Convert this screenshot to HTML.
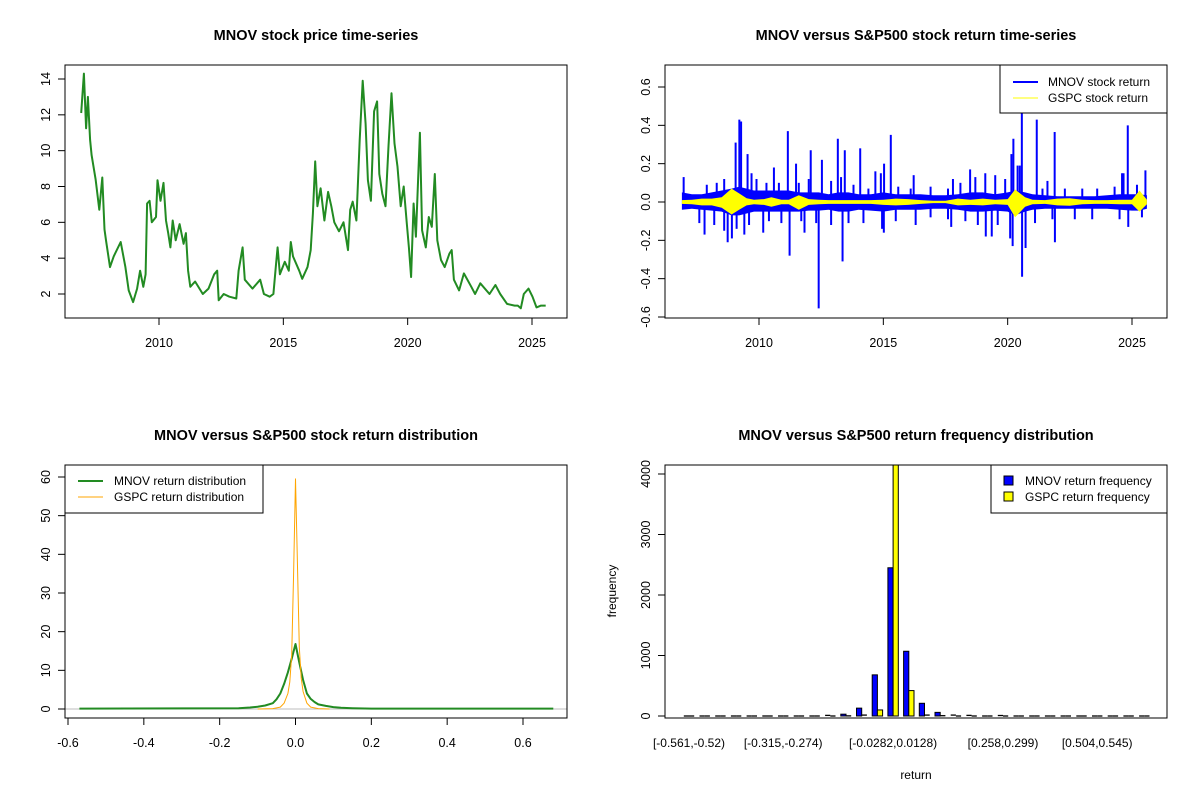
<!DOCTYPE html>
<html><head><meta charset="utf-8"><style>
html,body{margin:0;padding:0;background:#fff;}
svg{display:block;font-family:"Liberation Sans",Arial,sans-serif;}
</style></head><body>
<svg id="chart" width="1200" height="800" viewBox="0 0 1200 800"></svg>
<script>
// ---------- Data: price ----------
const priceYears=[2006.87,2006.98,2007.07,2007.14,2007.23,2007.29,2007.45,2007.60,2007.72,2007.81,2007.87,2008.03,2008.18,2008.46,2008.65,2008.78,2008.96,2009.12,2009.24,2009.37,2009.46,2009.52,2009.62,2009.71,2009.88,2009.94,2010.06,2010.18,2010.28,2010.37,2010.46,2010.55,2010.67,2010.83,2010.99,2011.08,2011.17,2011.26,2011.45,2011.76,2011.99,2012.22,2012.34,2012.40,2012.60,2012.83,2013.11,2013.20,2013.36,2013.45,2013.76,2014.07,2014.22,2014.45,2014.60,2014.71,2014.77,2014.86,2015.06,2015.22,2015.30,2015.39,2015.64,2015.76,2015.97,2016.10,2016.19,2016.28,2016.37,2016.50,2016.65,2016.80,2016.93,2017.05,2017.24,2017.42,2017.60,2017.69,2017.79,2017.94,2018.07,2018.19,2018.31,2018.40,2018.52,2018.65,2018.77,2018.86,2018.98,2019.11,2019.23,2019.35,2019.47,2019.59,2019.72,2019.84,2019.96,2020.05,2020.14,2020.24,2020.33,2020.49,2020.58,2020.73,2020.85,2020.97,2021.09,2021.19,2021.34,2021.49,2021.68,2021.77,2021.86,2022.07,2022.26,2022.56,2022.71,2022.92,2023.29,2023.53,2023.72,2024.00,2024.30,2024.43,2024.55,2024.67,2024.86,2025.02,2025.18,2025.36,2025.55];
const priceValues=[12.1,14.3,11.25,13.0,10.6,9.75,8.4,6.7,8.5,5.6,5.0,3.5,4.1,4.9,3.5,2.2,1.55,2.3,3.3,2.4,3.1,7.05,7.2,6.0,6.3,8.35,7.2,8.2,6.1,5.4,4.6,6.1,5.0,5.9,4.8,5.4,3.3,2.4,2.7,2.0,2.3,3.1,3.3,1.65,2.0,1.85,1.75,3.3,4.6,2.8,2.3,2.8,2.0,1.85,2.0,3.7,4.6,3.1,3.8,3.3,4.9,4.1,3.3,2.85,3.5,4.45,6.5,9.4,6.9,7.9,6.1,7.7,6.9,6.0,5.5,6.0,4.45,6.7,7.15,6.1,10.6,13.9,11.5,8.35,7.2,12.2,12.75,8.7,7.6,6.9,10.25,13.2,10.4,9.1,6.9,8.0,6.0,4.6,2.95,7.05,5.2,11.0,5.55,4.6,6.3,5.75,8.7,5.0,3.9,3.5,4.25,4.45,2.8,2.2,3.15,2.4,2.0,2.6,2.0,2.5,2.0,1.45,1.35,1.35,1.2,2.0,2.3,1.85,1.25,1.35,1.35];
const priceYTicks=[2,4,6,8,10,12,14];
const yearTicks=[2010,2015,2020,2025];
// ---------- Data: returns ----------
const bandYears=[2006.9,2007.3,2007.7,2008.1,2008.5,2008.9,2009.2,2009.5,2009.8,2010.2,2010.5,2010.9,2011.2,2011.6,2012.0,2012.4,2012.8,2013.2,2013.6,2014.0,2014.5,2015.0,2015.5,2016.0,2016.5,2017.0,2017.5,2018.0,2018.5,2019.0,2019.5,2020.0,2020.3,2020.7,2021.0,2021.5,2022.0,2022.5,2023.0,2023.5,2024.0,2024.5,2025.0,2025.3,2025.6];
const mnovHi=[0.05,0.04,0.04,0.05,0.06,0.07,0.08,0.07,0.06,0.06,0.06,0.06,0.06,0.05,0.05,0.05,0.04,0.05,0.05,0.04,0.04,0.05,0.04,0.04,0.04,0.035,0.035,0.04,0.05,0.05,0.04,0.05,0.06,0.05,0.04,0.035,0.03,0.03,0.03,0.03,0.035,0.04,0.04,0.04,0.035];
const mnovLo=[-0.04,-0.035,-0.04,-0.045,-0.05,-0.07,-0.07,-0.06,-0.05,-0.05,-0.05,-0.05,-0.05,-0.05,-0.045,-0.045,-0.04,-0.05,-0.05,-0.04,-0.045,-0.05,-0.04,-0.04,-0.04,-0.035,-0.035,-0.04,-0.05,-0.05,-0.045,-0.05,-0.07,-0.05,-0.04,-0.035,-0.035,-0.035,-0.035,-0.035,-0.035,-0.04,-0.045,-0.045,-0.035];
const gspcHi=[0.01,0.012,0.018,0.018,0.025,0.07,0.045,0.02,0.012,0.015,0.025,0.012,0.012,0.035,0.015,0.012,0.01,0.01,0.01,0.01,0.01,0.012,0.018,0.015,0.01,0.006,0.006,0.018,0.012,0.018,0.012,0.015,0.065,0.025,0.012,0.01,0.018,0.02,0.012,0.01,0.01,0.012,0.012,0.06,0.012];
const gspcLo=[-0.01,-0.012,-0.018,-0.018,-0.03,-0.065,-0.04,-0.018,-0.012,-0.015,-0.025,-0.012,-0.012,-0.04,-0.015,-0.012,-0.01,-0.01,-0.01,-0.01,-0.01,-0.015,-0.018,-0.015,-0.01,-0.006,-0.006,-0.018,-0.015,-0.018,-0.012,-0.015,-0.08,-0.025,-0.012,-0.01,-0.018,-0.02,-0.012,-0.01,-0.01,-0.012,-0.012,-0.05,-0.012];
const spikeYears=[2006.97,2007.81,2008.74,2008.91,2009.06,2009.21,2009.28,2009.41,2009.54,2010.17,2010.60,2011.16,2011.23,2011.49,2011.83,2012.08,2012.40,2012.53,2013.17,2013.36,2013.45,2014.07,2014.68,2015.02,2015.03,2015.30,2016.22,2017.73,2018.49,2019.12,2019.36,2020.15,2020.20,2020.23,2020.49,2020.57,2020.58,2020.72,2021.17,2021.89,2021.90,2024.66,2024.83,2024.85,2025.54,
2007.9,2008.3,2008.6,2009.7,2009.9,2010.3,2010.8,2011.6,2012.0,2012.9,2013.3,2013.8,2014.4,2014.9,2015.6,2016.1,2016.9,2017.6,2017.8,2018.1,2018.7,2019.1,2019.5,2019.9,2020.4,2021.4,2021.6,2022.3,2023.0,2023.6,2024.3,2024.6,2025.2,
2007.6,2008.2,2008.6,2009.1,2009.6,2010.4,2010.9,2011.7,2012.3,2012.9,2013.6,2014.2,2014.95,2015.5,2016.3,2016.9,2017.6,2018.3,2018.8,2019.6,2020.1,2021.1,2021.8,2022.7,2023.4,2024.5,2025.4];
const spikeValues=[0.13,-0.17,-0.21,-0.19,0.31,0.43,0.42,-0.17,0.25,-0.16,0.18,0.37,-0.28,0.20,-0.16,0.27,-0.555,0.22,0.33,-0.31,0.27,0.28,0.16,-0.16,0.20,0.35,0.14,-0.13,0.17,-0.18,-0.18,0.25,-0.23,0.33,0.19,0.465,-0.39,-0.24,0.43,0.365,-0.21,0.15,0.40,-0.13,0.165,
0.09,0.10,0.12,0.15,0.12,0.10,0.10,0.10,0.12,0.11,0.13,0.09,0.07,0.15,0.08,0.07,0.08,0.07,0.12,0.10,0.13,0.15,0.14,0.12,0.19,0.07,0.11,0.07,0.07,0.07,0.08,0.15,0.09,
-0.11,-0.12,-0.15,-0.14,-0.12,-0.10,-0.11,-0.10,-0.11,-0.12,-0.11,-0.11,-0.14,-0.10,-0.12,-0.08,-0.09,-0.10,-0.12,-0.12,-0.19,-0.11,-0.09,-0.09,-0.09,-0.09,-0.08];
const retYTicks=[-0.6,-0.4,-0.2,0.0,0.2,0.4,0.6];
// ---------- Data: densities ----------
const mnovDensX=[-0.57,-0.15,-0.12,-0.1,-0.08,-0.06,-0.05,-0.04,-0.03,-0.02,-0.01,0,0.01,0.02,0.03,0.04,0.05,0.06,0.08,0.1,0.12,0.15,0.2,0.68];
const mnovDensY=[0.1,0.2,0.4,0.6,0.9,1.5,2.5,4,6.5,9.5,13,16.8,12,7.5,4,2.6,1.8,1.2,0.8,0.5,0.3,0.2,0.1,0.1];
const gspcDensX=[-0.1,-0.06,-0.04,-0.03,-0.02,-0.015,-0.01,-0.005,0,0.005,0.01,0.015,0.02,0.03,0.04,0.06,0.09];
const gspcDensY=[0,0.1,0.5,1.5,4,7,14,35,59.5,38,16,8,4.5,1.5,0.5,0.1,0];
const densXTicks=[-0.6,-0.4,-0.2,0.0,0.2,0.4,0.6];
const densYTicks=[0,10,20,30,40,50,60];
// ---------- Data: histogram ----------
const mnovFreq=[0,0,0,0,0,0,0,0,0,10,30,130,680,2450,1070,210,60,15,10,0,8,0,0,0,0,0,0,0,0,0];
const gspcFreq=[0,0,0,0,0,0,0,0,0,0,2,15,100,4300,420,15,5,0,0,0,0,0,0,0,0,0,0,0,0,0];
const binLabels=["[-0.561,-0.52)","[-0.315,-0.274)","[-0.0282,0.0128)","[0.258,0.299)","[0.504,0.545)"];
const binLabelIdx=[0,6,13,20,26];
const freqTicks=[0,1000,2000,3000,4000];

const NS="http://www.w3.org/2000/svg";
const svg=document.getElementById('chart');
function mk(tag,attrs,parent,text){const e=document.createElementNS(NS,tag);for(const k in attrs)e.setAttribute(k,attrs[k]);if(text!==undefined)e.textContent=text;(parent||svg).appendChild(e);return e;}
function lin(d0,d1,r0,r1){return v=>r0+(v-d0)*(r1-r0)/(d1-d0);}
function fmt(v,dec){return v.toFixed(dec);}

function panel(name,title,box){
  const g=mk('g',{});
  
  
  const t=mk('text',{x:(box.x0+box.x1)/2,y:box.y0-25,'text-anchor':'middle','font-size':'14.5','font-weight':'bold'},g,title);
  
  
  const cid='clip-'+name;
  const cp=mk('clipPath',{id:cid},g);
  mk('rect',{x:box.x0,y:box.y0,width:box.x1-box.x0,height:box.y1-box.y0},cp);
  const plot=mk('g',{'clip-path':'url(#'+cid+')'},g);
  
  
  return {g,plot};
}
function frame(g,box){const r=mk('rect',{x:box.x0,y:box.y0,width:box.x1-box.x0,height:box.y1-box.y0,fill:'none',stroke:'#000','stroke-width':1},g);
  
  }
function yAxis(g,box,ticks,sy,dec){
  const ax=mk('g',{},g);
  
  
  ticks.forEach(v=>{const y=sy(v);
    mk('line',{x1:box.x0-7,x2:box.x0,y1:y,y2:y,stroke:'#000'},ax);
    const t=mk('text',{x:0,y:0,transform:`translate(${box.x0-15},${y}) rotate(-90)`,'text-anchor':'middle','font-size':'12.5'},ax,fmt(v,dec));
    
    });
}
function xAxis(g,box,ticks,sx,dec){
  const ax=mk('g',{},g);
  
  
  ticks.forEach(v=>{const x=sx(v);
    mk('line',{y1:box.y1,y2:box.y1+7,x1:x,x2:x,stroke:'#000'},ax);
    const t=mk('text',{x:x,y:box.y1+29,'text-anchor':'middle','font-size':'12.5'},ax,fmt(v,dec));
    
    });
}
function poly(parent,xs,ys,sx,sy,stroke,w,name){
  const p=mk('polyline',{points:xs.map((x,i)=>sx(x).toFixed(1)+','+sy(ys[i]).toFixed(1)).join(' '),fill:'none',stroke:stroke,'stroke-width':w,'stroke-linejoin':'round'},parent);
  
  
  return p;
}

// ---- Panel 1: price ----
{const box={x0:65,x1:567,y0:65,y1:318};
 const sx=lin(2010,2025,159,532), sy=lin(2,14,294,79);
 const {g,plot}=panel('price-panel','MNOV stock price time-series',box);
 poly(plot,priceYears,priceValues,sx,sy,'#228b22',2,'mnov-price-line');
 frame(g,box); yAxis(g,box,priceYTicks,sy,0); xAxis(g,box,yearTicks,sx,0);}

// ---- Panel 2: returns ----
{const box={x0:665,x1:1167,y0:65,y1:318};
 const sx=lin(2010,2025,759,1132), sy=lin(-0.6,0.6,317,87);
 const {g,plot}=panel('returns-panel','MNOV versus S&P500 stock return time-series',box);
 function band(hi,lo,col,name){
   const pts=bandYears.map((x,i)=>sx(x).toFixed(1)+','+sy(hi[i]).toFixed(1)).concat(bandYears.map((x,i)=>sx(x).toFixed(1)+','+sy(lo[i]).toFixed(1)).reverse());
   const p=mk('polygon',{points:pts.join(' '),fill:col,stroke:'none'},plot);
   
   }
 band(mnovHi,mnovLo,'#0000ff','mnov-return-band');
 spikeYears.forEach((x,i)=>{const l=mk('line',{x1:sx(x),x2:sx(x),y1:sy(0),y2:sy(spikeValues[i]),stroke:'#0000ff','stroke-width':2},plot);
   
   });
 band(gspcHi,gspcLo,'#ffff00','gspc-return-band');
 frame(g,box); yAxis(g,box,retYTicks,sy,1); xAxis(g,box,yearTicks,sx,0);
 const lg=mk('g',{},g);
 
 
 mk('rect',{x:1000,y:65,width:167,height:48,fill:'#fff',stroke:'#000'},lg);
 mk('line',{x1:1013,x2:1038,y1:82,y2:82,stroke:'#0000ff','stroke-width':2},lg);
 mk('line',{x1:1013,x2:1038,y1:98,y2:98,stroke:'#ffff00','stroke-width':1},lg);
 const a=mk('text',{x:1048,y:86,'font-size':'12'},lg,'MNOV stock return');
  
 const b=mk('text',{x:1048,y:102,'font-size':'12'},lg,'GSPC stock return');
  }

// ---- Panel 3: density ----
{const box={x0:65,x1:567,y0:465,y1:718};
 const sx=lin(-0.6,0.6,68,523), sy=lin(0,60,709,477);
 const {g,plot}=panel('density-panel','MNOV versus S&P500 stock return distribution',box);
 const bl=mk('line',{x1:box.x0,x2:box.x1,y1:sy(0),y2:sy(0),stroke:'#bebebe'},plot);
  
 poly(plot,mnovDensX,mnovDensY,sx,sy,'#228b22',2,'mnov-density-line');
 poly(plot,gspcDensX,gspcDensY,sx,sy,'#ffa500',1,'gspc-density-line');
 frame(g,box); yAxis(g,box,densYTicks,sy,0); xAxis(g,box,densXTicks,sx,1);
 const lg=mk('g',{},g);
 
 
 mk('rect',{x:65,y:465,width:198,height:48,fill:'#fff',stroke:'#000'},lg);
 mk('line',{x1:78,x2:103,y1:481,y2:481,stroke:'#228b22','stroke-width':2},lg);
 mk('line',{x1:78,x2:103,y1:497,y2:497,stroke:'#ffa500','stroke-width':1},lg);
 const a=mk('text',{x:114,y:485,'font-size':'12'},lg,'MNOV return distribution');
  
 const b=mk('text',{x:114,y:501,'font-size':'12'},lg,'GSPC return distribution');
  }

// ---- Panel 4: histogram ----
{const box={x0:665,x1:1167,y0:465,y1:718};
 const sy=lin(0,4000,716,474);
 const groupX=k=>689+k*15.7, bw=5.2;
 const {g,plot}=panel('histogram-panel','MNOV versus S&P500 return frequency distribution',box);
 function bar(x,v,fill,name){
   const h=sy(0)-sy(v);
   let r;
   if(h<1){r=mk('line',{x1:x,x2:x+bw,y1:sy(v),y2:sy(v),stroke:'#000','stroke-width':1.3},plot);}
   else{r=mk('rect',{x:x,y:sy(v),width:bw,height:h,fill:fill,stroke:'#000','stroke-width':1},plot);}
    }
 mnovFreq.forEach((v,k)=>bar(groupX(k)-bw,v,'#0000ff','bar-mnov'));
 gspcFreq.forEach((v,k)=>bar(groupX(k),v,'#ffff00','bar-gspc'));
 frame(g,box); yAxis(g,box,freqTicks,sy,0);
 binLabelIdx.forEach((k,i)=>{const t=mk('text',{x:groupX(k),y:747,'text-anchor':'middle','font-size':'12'},g,binLabels[i]);
    });
 const xt=mk('text',{x:916,y:779,'text-anchor':'middle','font-size':'12'},g,'return');
  
 const yt=mk('text',{x:0,y:0,transform:'translate(616,591) rotate(-90)','text-anchor':'middle','font-size':'12'},g,'frequency');
  
 const lg=mk('g',{},g);
 
 
 mk('rect',{x:991,y:465,width:176,height:48,fill:'#fff',stroke:'#000'},lg);
 mk('rect',{x:1004,y:476,width:9,height:9,fill:'#0000ff',stroke:'#000'},lg);
 mk('rect',{x:1004,y:492,width:9,height:9,fill:'#ffff00',stroke:'#000'},lg);
 const a=mk('text',{x:1025,y:485,'font-size':'12'},lg,'MNOV return frequency');
  
 const b=mk('text',{x:1025,y:501,'font-size':'12'},lg,'GSPC return frequency');
  }
</script>
</body></html>
